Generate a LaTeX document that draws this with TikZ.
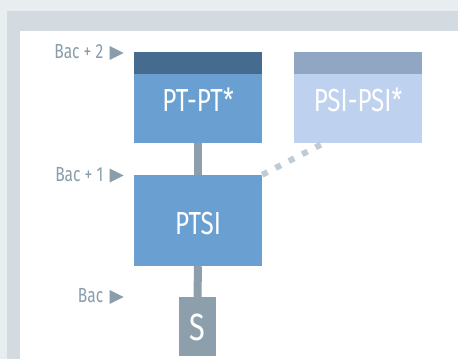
\documentclass[tikz,border=0pt]{standalone}
\usepackage{fontspec}
\setmainfont[FakeStretch=0.76]{Fira Sans}
\usetikzlibrary{positioning,calc,shapes.geometric}
\definecolor{pageback}{HTML}{E8EDF0}
\definecolor{framegrey}{HTML}{D4DBE0}
\definecolor{ptblue}{HTML}{6A9FD1}
\definecolor{ptdark}{HTML}{456B8F}
\definecolor{psiblue}{HTML}{BED1EF}
\definecolor{psidark}{HTML}{91A6C2}
\definecolor{bargrey}{HTML}{8C9FAB}
\definecolor{dashgrey}{HTML}{BFCCD6}
\definecolor{lvlgrey}{HTML}{8A9DAB}
\tikzstyle{filiere}=[rectangle,minimum width=128bp,minimum height=91bp,inner sep=0pt,text=white,font=\fontsize{32}{32}\selectfont,text height=28bp,text depth=0pt]
\tikzstyle{bacbox}=[filiere,fill=bargrey,minimum width=37bp,minimum height=59bp,font=\fontsize{38}{38}\selectfont,text height=28bp]
\tikzstyle{bar} = [draw=bargrey,line width=8bp]
\tikzstyle{dashedge} = [draw=dashgrey,line width=6bp,dash pattern=on 6bp off 9bp]
\tikzstyle{tri}=[isosceles triangle,isosceles triangle stretches,fill=lvlgrey,minimum width=14bp,minimum height=14bp,inner sep=0pt]
\tikzstyle{lvl}=[text=lvlgrey,inner sep=0pt,font=\fontsize{20.5}{20.5}\selectfont,text depth=3bp]

\begin{document}
\begin{tikzpicture}[x=1bp,y=-1bp]

\useasboundingbox (0,0) rectangle (458,359);
% background and frame
\fill[pageback] (0,0) rectangle (458,359);
\fill[framegrey] (7,11) rectangle (458,359);
\fill[white] (20,31) rectangle (458,359);

% boxes
    \foreach \pos/\name/\txt/\col in {{(198,97.5)/pt/PT-PT*/ptblue}, {(358,97.5)/psi/PSI-PSI*/psiblue}, {(198,220.5)/ptsi/PTSI/ptblue}}
        \node[filiere,fill=\col] (\name) at \pos {\txt};
    \node[bacbox] (s) at (197.5,326.5) {S};

% top bands
    \foreach \name/\col in {pt/ptdark, psi/psidark}
        \fill[\col] (\name.north west) rectangle ($(\name.north east)+(0,22)$);

% Connect boxes
    \foreach \source/ \dest in {pt/ptsi, ptsi/s}
        \path[bar] (\source.south) -- (\dest.north);
    \path[dashedge] (ptsi.north east) -- (psi.233);

% levels
    \foreach \y/\name/\txt in {53/two/Bac + 2, 175.5/one/Bac + 1, 297/zero/Bac}
    {
        \node[tri] (tri\name) at (114,\y) {};
        \node[lvl,left=6bp of tri\name] (bac\name) {\txt};
    }

\end{tikzpicture}
\end{document}
